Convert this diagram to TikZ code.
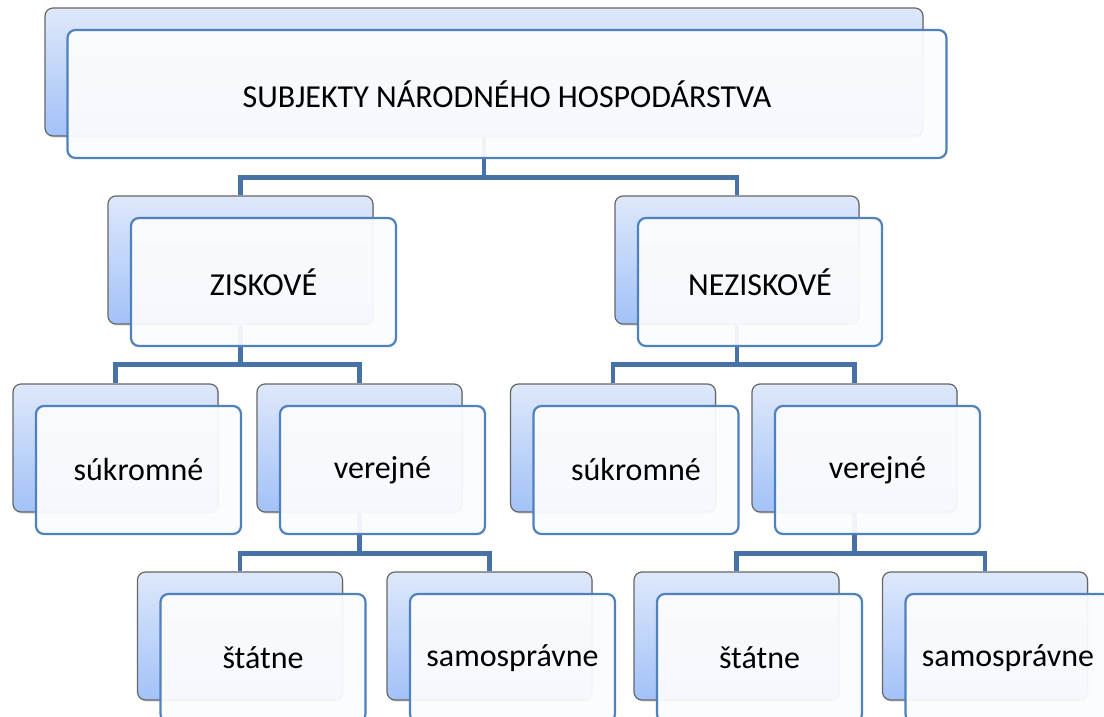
\documentclass[tikz,border=0pt]{standalone}
\usepackage{fontspec}
\setmainfont{Carlito}
\usetikzlibrary{shadows,backgrounds}
\definecolor{bktop}{HTML}{DEE8FA}
\definecolor{bkbot}{HTML}{A2C2F8}
\definecolor{frline}{HTML}{4F81BD}
\definecolor{cnline}{HTML}{4672A8}

\begin{document}
\begin{tikzpicture}[x=0.5pt,y=-0.5pt,font=\fontsize{16}{19}\selectfont,
   bk/.style={draw=black!60,line width=0.6pt,rounded corners=4pt,top color=bktop,bottom color=bkbot,
     minimum width=102.5pt,minimum height=64pt,inner sep=0pt,
     drop shadow={shadow xshift=0.5pt,shadow yshift=-0.8pt,opacity=0.3}},
   fr/.style={draw=frline,line width=1.1pt,rounded corners=4pt,fill=white!98!frline,fill opacity=0.94,
     text opacity=1,minimum width=102.5pt,minimum height=64pt,inner sep=0pt},
   cn/.style={draw=cnline,line width=2.3pt}]
  \useasboundingbox (0,0) rectangle (1104,717);
  \clip (0,0) rectangle (1104,717);
  % top level
  \node[bk,minimum width=439pt] (subjb) at (484,72) {};
  \node[fr,minimum width=439.5pt] (subj) at (507,94) {SUBJEKTY NÁRODNÉHO HOSPODÁRSTVA};
  % second level
  \node[bk,minimum width=132.5pt] (ziskb) at (240.5,260) {};
  \node[fr,minimum width=132.5pt] (zisk) at (263.5,282) {ZISKOVÉ};
  \node[bk,minimum width=122pt] (neziskb) at (737,260) {};
  \node[fr,minimum width=122pt] (nezisk) at (760,282) {NEZISKOVÉ};
  % third level
  \node[bk] (zsukb) at (115.5,448) {};
  \node[fr] (zsuk) at (138.5,470) {súkromné};
  \node[bk] (zverb) at (359.5,448) {};
  \node[fr] (zver) at (382.5,470) {verejné};
  \node[bk] (nsukb) at (613,448) {};
  \node[fr] (nsuk) at (636,470) {súkromné};
  \node[bk] (nverb) at (854.5,448) {};
  \node[fr] (nver) at (877.5,470) {verejné};
  % fourth level
  \node[bk] (zstatb) at (240,636) {};
  \node[fr] (zstat) at (263,658) {štátne};
  \node[bk] (zsamob) at (489.5,636) {};
  \node[fr] (zsamo) at (512.5,658) {samosprávne};
  \node[bk] (nstatb) at (736.5,636) {};
  \node[fr] (nstat) at (759.5,658) {štátne};
  \node[bk] (nsamob) at (985,636) {};
  \node[fr] (nsamo) at (1008,658) {samosprávne};
  \begin{scope}[on background layer]
    \draw[cn] (subjb.south) -- ++(0,41) -| (ziskb.north);
    \draw[cn] (subjb.south) -- ++(0,41) -| (neziskb.north);
    \draw[cn] (ziskb.south) -- ++(0,40) -| (zsukb.north);
    \draw[cn] (ziskb.south) -- ++(0,40) -| (zverb.north);
    \draw[cn] (neziskb.south) -- ++(0,40) -| (nsukb.north);
    \draw[cn] (neziskb.south) -- ++(0,40) -| (nverb.north);
    \draw[cn] (zverb.south) -- ++(0,41) -| (zstatb.north);
    \draw[cn] (zverb.south) -- ++(0,41) -| (zsamob.north);
    \draw[cn] (nverb.south) -- ++(0,41) -| (nstatb.north);
    \draw[cn] (nverb.south) -- ++(0,41) -| (nsamob.north);
  \end{scope}
\end{tikzpicture}
\end{document}
